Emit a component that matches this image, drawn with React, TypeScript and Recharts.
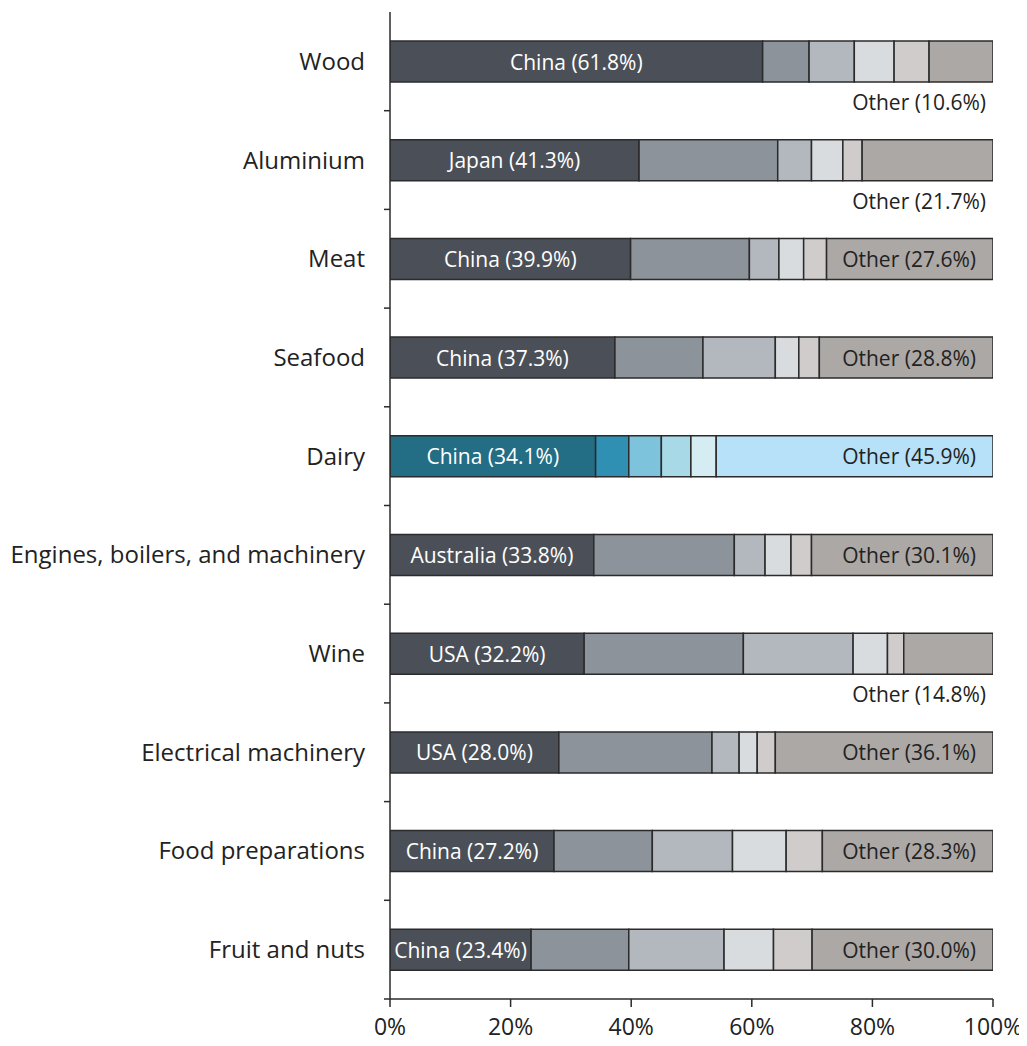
import { Bar, BarChart, Cell, LabelList, XAxis, YAxis } from "recharts";

const categories = [
  "Wood",
  "Aluminium",
  "Meat",
  "Seafood",
  "Dairy",
  "Engines, boilers, and machinery",
  "Wine",
  "Electrical machinery",
  "Food preparations",
  "Fruit and nuts",
];
const topPartner = ["China", "Japan", "China", "China", "China", "Australia", "USA", "USA", "China", "China"];
const topShare = [61.8, 41.3, 39.9, 37.3, 34.1, 33.8, 32.2, 28.0, 27.2, 23.4];
const secondShare = [7.7, 23.0, 19.7, 14.6, 5.5, 23.3, 26.4, 25.4, 16.3, 16.2];
const thirdShare = [7.5, 5.6, 4.9, 12.0, 5.4, 5.1, 18.2, 4.5, 13.3, 15.8];
const fourthShare = [6.6, 5.2, 4.1, 3.9, 4.9, 4.3, 5.7, 3.0, 8.9, 8.2];
const fifthShare = [5.8, 3.2, 3.8, 3.4, 4.2, 3.4, 2.7, 3.0, 6.0, 6.4];
const otherShare = [10.6, 21.7, 27.6, 28.8, 45.9, 30.1, 14.8, 36.1, 28.3, 30.0];
const highlighted = "Dairy";
const xTicks = [0, 20, 40, 60, 80, 100];

const greys = ["#4b5058", "#8c939a", "#b3b8be", "#d8dcdf", "#d0cccc", "#aca8a6"];
const blues = ["#236d85", "#2f90b4", "#7ec3dc", "#a8d9e7", "#d6ecf3", "#b6e1f8"];

const FONT = "'Open Sans', 'Noto Sans', sans-serif";
const INK = "#222";
const EDGE = "#2b2b2b";

const W = 1019;
const H = 1036;
const MARGIN = { top: 4, right: 34, bottom: 0, left: 0 };
const X_AXIS_H = 45;
const TICK_GAP = 25; // distance from axis line to label end
const BAND = (H - MARGIN.top - MARGIN.bottom - X_AXIS_H) / categories.length;

const data = categories.map((name, i) => ({
  name,
  s1: topShare[i],
  s2: secondShare[i],
  s3: thirdShare[i],
  s4: fourthShare[i],
  s5: fifthShare[i],
  s6: otherShare[i],
  topLabel: `${topPartner[i]} (${topShare[i].toFixed(1)}%)`,
  otherLabel: `Other (${otherShare[i].toFixed(1)}%)`,
}));

const keys = ["s1", "s2", "s3", "s4", "s5", "s6"];

// category label, plus a small tick on the boundary below the band
function CategoryTick(props: any) {
  const { x, y, payload } = props;
  const ax = x + TICK_GAP;
  return (
    <g>
      <text
        x={x}
        y={y - 1}
        textAnchor="end"
        dominantBaseline="central"
        fill={INK}
        fontSize={24}
        fontFamily={FONT}
      >
        {payload.value}
      </text>
      <line x1={ax - 6} x2={ax} y1={y + BAND / 2} y2={y + BAND / 2} stroke={EDGE} strokeWidth={1.5} />
    </g>
  );
}

function TopLabel(props: any) {
  const { x, y, width, height, value } = props;
  return (
    <text
      x={x + width / 2}
      y={y + height / 2}
      textAnchor="middle"
      dominantBaseline="central"
      fill="#fff"
      fontSize={21}
      fontFamily={FONT}
    >
      {value}
    </text>
  );
}

function OtherLabel(props: any) {
  const { x, y, width, height, value } = props;
  const inside = width > 145;
  return (
    <text
      x={inside ? x + width - 17 : x + width - 7}
      y={inside ? y + height / 2 : y + height + 20}
      textAnchor="end"
      dominantBaseline="central"
      fill={INK}
      fontSize={21}
      fontFamily={FONT}
    >
      {value}
    </text>
  );
}

export default function App() {
  return (
    <div style={{ width: W, height: H, fontFamily: FONT }}>
      <BarChart
        width={W}
        height={H}
        data={data}
        layout="vertical"
        margin={MARGIN}
        barCategoryGap={0}
      >
        <YAxis
          type="category"
          dataKey="name"
          width={382}
          axisLine={{ stroke: EDGE, strokeWidth: 1.5 }}
          tickLine={false}
          tickSize={6}
          tickMargin={TICK_GAP - 6}
          tick={<CategoryTick />}
          interval={0}
        />
        <XAxis
          type="number"
          domain={[0, 100]}
          allowDataOverflow
          ticks={xTicks}
          tickFormatter={(v) => `${v}%`}
          height={X_AXIS_H}
          axisLine={{ stroke: EDGE, strokeWidth: 1.5 }}
          tickLine={{ stroke: EDGE, strokeWidth: 1.5 }}
          tickSize={8}
          tickMargin={12}
          tick={{ fill: INK, fontSize: 23, fontFamily: FONT }}
        />
        {keys.map((k, j) => (
          <Bar
            key={k}
            dataKey={k}
            stackId="a"
            barSize={41}
            stroke={EDGE}
            strokeWidth={1.5}
            isAnimationActive={false}
          >
            {data.map((d) => (
              <Cell key={d.name} fill={d.name === highlighted ? blues[j] : greys[j]} />
            ))}
            {j === 0 && <LabelList dataKey="topLabel" content={TopLabel} />}
            {j === 5 && <LabelList dataKey="otherLabel" content={OtherLabel} />}
          </Bar>
        ))}
      </BarChart>
    </div>
  );
}
